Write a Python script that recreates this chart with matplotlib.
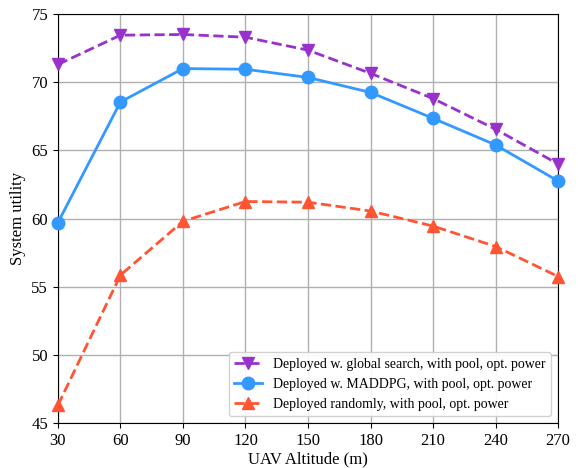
import matplotlib
matplotlib.use("Agg")
import matplotlib.pyplot as plt

plt.rcParams['font.family'] = ['Liberation Serif', 'DejaVu Serif']
plt.rcParams['mathtext.fontset'] = 'stix'

altitudes = [30, 60, 90, 120, 150, 180, 210, 240, 270]
global_search = [71.3, 73.45, 73.5, 73.3, 72.35, 70.65, 68.8, 66.55, 64.0]
maddpg = [59.7, 68.55, 71.0, 70.95, 70.35, 69.25, 67.35, 65.4, 62.75]
random_dep = [46.3, 55.85, 59.8, 61.25, 61.2, 60.55, 59.45, 57.95, 55.75]

labels = ["Deployed w. global search, with pool, opt. power",
          "Deployed w. MADDPG, with pool, opt. power",
          "Deployed randomly, with pool, opt. power"]
xticks = [30, 60, 90, 120, 150, 180, 210, 240, 270]
yticks = [45, 50, 55, 60, 65, 70, 75]

fig = plt.figure(figsize=(5.79, 4.68), dpi=100)
ax = fig.add_axes([0.1, 0.096, 0.864, 0.874])

ax.plot(altitudes, global_search, color='#9932CC', linestyle='--', linewidth=2,
        marker='v', markersize=9, label=labels[0], clip_on=False, zorder=3)
ax.plot(altitudes, maddpg, color='#3399FF', linestyle='-', linewidth=2,
        marker='o', markersize=9, label=labels[1], clip_on=False, zorder=3)
ax.plot(altitudes, random_dep, color='#FF5533', linestyle='--', linewidth=2,
        marker='^', markersize=9, label=labels[2], clip_on=False, zorder=3)

ax.set_xlim(30, 270)
ax.set_ylim(45, 75)
ax.set_xticks(xticks)
ax.set_yticks(yticks)
ax.tick_params(labelsize=12, direction='out')
ax.grid(True, color='#b0b0b0', linewidth=1)
ax.set_axisbelow(True)
ax.set_xlabel("UAV Altitude (m)", fontsize=12, labelpad=2)
ax.set_ylabel("System utility", fontsize=12)
ax.legend(loc='lower right', fontsize=10, framealpha=0.9, handlelength=2)

fig.savefig("out.png", dpi=100)
